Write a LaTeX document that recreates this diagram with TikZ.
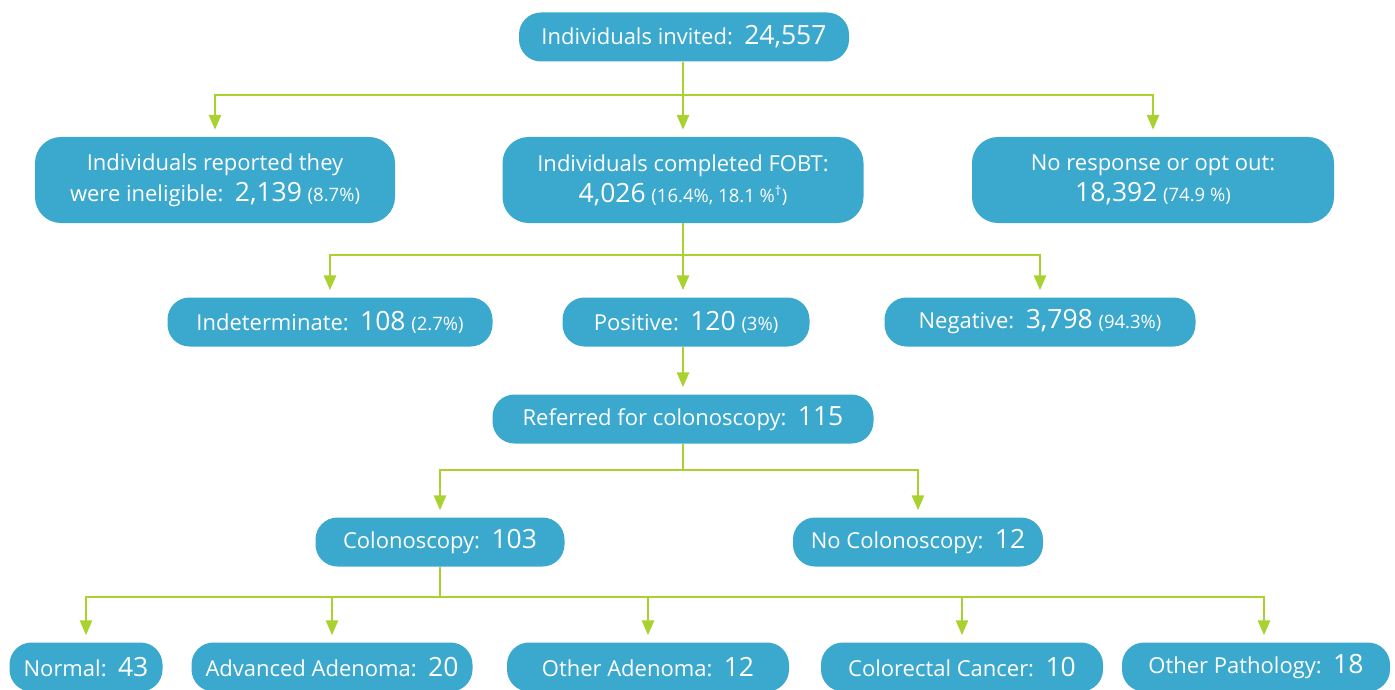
\documentclass[tikz,border=0pt]{standalone}
\usepackage{fontspec}
\setmainfont{Open Sans}
\usetikzlibrary{arrows.meta,calc}
\definecolor{boxblue}{HTML}{3BA8CE}
\definecolor{lime}{HTML}{A9D12F}
\newcommand\bignum[1]{{\fontsize{26.5}{28}\selectfont #1}}
\newcommand\smallpct[1]{{\fontsize{18.5}{20}\selectfont #1}}
\begin{document}
\begin{tikzpicture}[x=1pt,y=-1pt,
  box/.style={fill=boxblue, text=white, rounded corners=22pt, align=center,
    font=\fontsize{22}{31}\selectfont, inner sep=0pt, minimum height=49pt},
  tallbox/.style={box, rounded corners=26pt, minimum height=86pt},
  link/.style={draw=lime, line width=2.8pt},
  arr/.style={link, -{Triangle[width=12pt,length=15pt]}, shorten >=7pt}]
\useasboundingbox (0,0) rectangle (1395,690);
% nodes
\node[box, minimum width=330pt] (top) at (684,37) {Individuals invited:\ \ \bignum{24,557}};
\node[tallbox, minimum width=360pt] (inel) at (215,180) {Individuals reported they\\were ineligible:\ \ \bignum{2,139} \smallpct{(8.7\%)}};
\node[tallbox, minimum width=361pt] (fobt) at (683,180) {Individuals completed FOBT:\\\bignum{4,026} \smallpct{(16.4\%, 18.1 \%\textsuperscript{\textdagger})}};
\node[tallbox, minimum width=362pt] (nores) at (1153,180) {No response or opt out:\\\bignum{18,392} \smallpct{(74.9 \%)}};
\node[box, minimum width=325pt] (indet) at (330,322) {Indeterminate:\ \ \bignum{108} \smallpct{(2.7\%)}};
\node[box, minimum width=247pt] (pos) at (686,322) {Positive:\ \ \bignum{120} \smallpct{(3\%)}};
\node[box, minimum width=311pt] (neg) at (1040,322) {Negative:\ \ \bignum{3,798} \smallpct{(94.3\%)}};
\node[box, minimum width=381pt] (ref) at (683,419) {Referred for colonoscopy:\ \ \bignum{115}};
\node[box, minimum width=249pt] (colo) at (440,542) {Colonoscopy:\ \ \bignum{103}};
\node[box, minimum width=250pt] (nocolo) at (918,542) {No Colonoscopy:\ \ \bignum{12}};
\node[box, minimum width=153pt] (normal) at (86,667) {Normal:\ \ \bignum{43}};
\node[box, minimum width=281pt] (adv) at (332,667) {Advanced Adenoma:\ \ \bignum{20}};
\node[box, minimum width=282pt] (oth) at (648,667) {Other Adenoma:\ \ \bignum{12}};
\node[box, minimum width=282pt] (crc) at (962,667) {Colorectal Cancer:\ \ \bignum{10}};
\node[box, minimum width=268pt] (path) at (1256,667) {Other Pathology:\ \ \bignum{18}};
% junctions
\coordinate (j1) at (683,95);
\coordinate (j2) at (683,255);
\coordinate (j3) at (683,470);
\coordinate (j4) at (440,597);
% connectors
\draw[link] (top.south -| j1) -- (j1);
\draw[arr] (j1) -| (inel.north);
\draw[arr] (j1) -- (j1 |- fobt.north);
\draw[arr] (j1) -| (nores.north);
\draw[link] (fobt.south -| j2) -- (j2);
\draw[arr] (j2) -| (indet.north);
\draw[arr] (j2) -- (j2 |- pos.north);
\draw[arr] (j2) -| (neg.north);
\draw[arr] (pos.south -| j2) -- (ref.north -| j2);
\draw[link] (ref.south -| j3) -- (j3);
\draw[arr] (j3) -| (colo.north);
\draw[arr] (j3) -| (nocolo.north);
\draw[link] (colo.south) -- (j4);
\draw[arr] (j4) -| (normal.north);
\draw[arr] (j4) -| (adv.north);
\draw[arr] (j4) -| (oth.north);
\draw[arr] (j4) -| (crc.north);
\draw[arr] (j4) -| ([xshift=8pt]path.north);
\end{tikzpicture}
\end{document}
